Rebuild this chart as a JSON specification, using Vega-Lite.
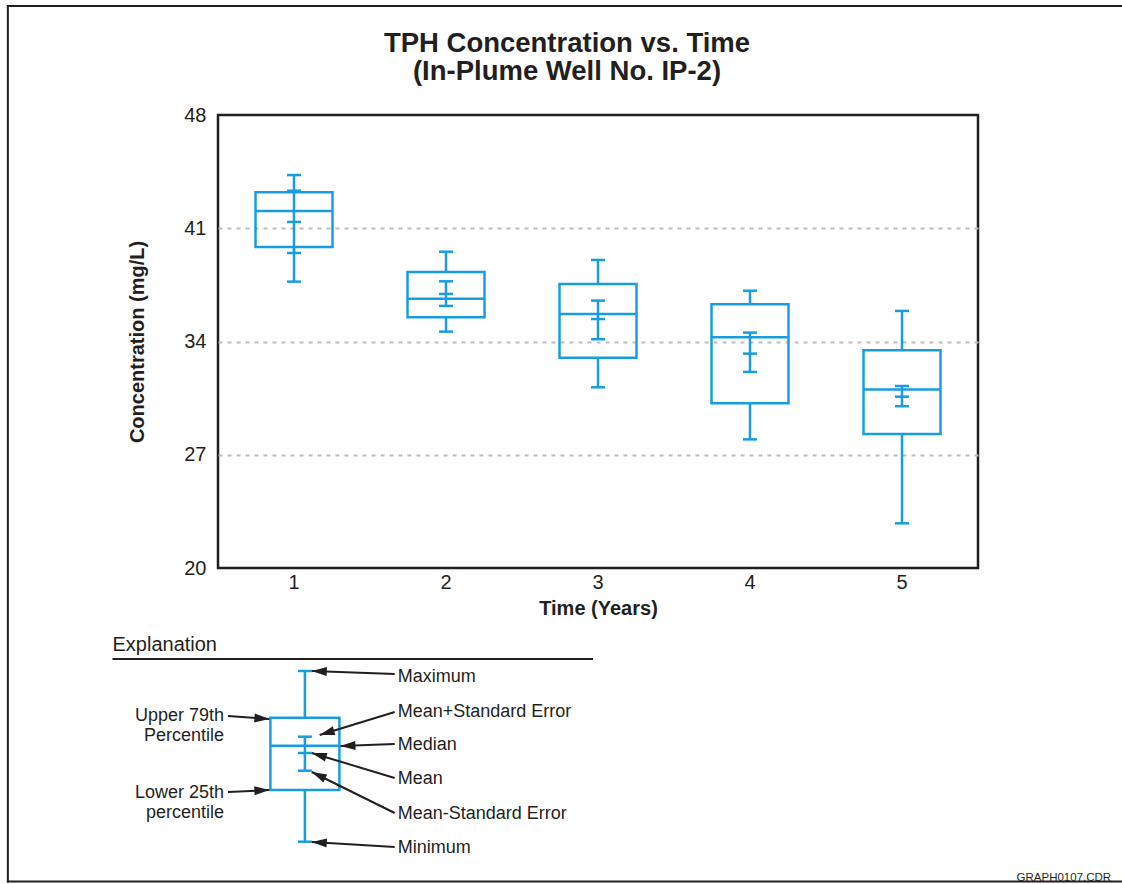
{
  "$schema": "https://vega.github.io/schema/vega-lite/v6.json",
  "autosize": {"type": "pad"},
  "padding": {"left": 5, "top": 4, "right": 0, "bottom": 0},
  "background": "white",
  "datasets": {
    "boxes": [
      {"year": 1, "min": 37.70, "q1": 39.84, "median": 42.07, "q3": 43.22, "max": 44.29, "mean": 41.39, "se_lo": 39.47, "se_hi": 43.32},
      {"year": 2, "min": 34.61, "q1": 35.50, "median": 36.65, "q3": 38.30, "max": 39.55, "mean": 36.94, "se_lo": 36.20, "se_hi": 37.72},
      {"year": 3, "min": 31.17, "q1": 33.00, "median": 35.70, "q3": 37.55, "max": 39.04, "mean": 35.39, "se_lo": 34.14, "se_hi": 36.53},
      {"year": 4, "min": 27.95, "q1": 30.18, "median": 34.26, "q3": 36.30, "max": 37.14, "mean": 33.25, "se_lo": 32.12, "se_hi": 34.55},
      {"year": 5, "min": 22.76, "q1": 28.28, "median": 31.04, "q3": 33.46, "max": 35.89, "mean": 30.59, "se_lo": 30.00, "se_hi": 31.25}
    ],
    "legendbox": [
      {"x": 8.3, "min": 1.83, "q1": 7.0, "median": 11.43, "q3": 14.23, "max": 18.9, "mean": 10.7, "se_lo": 8.93, "se_hi": 12.33}
    ],
    "notes": [
      {"x": 17.7, "y": 18.35, "text": "Maximum", "side": "right"},
      {"x": 17.7, "y": 14.85, "text": "Mean+Standard Error", "side": "right"},
      {"x": 17.7, "y": 11.52, "text": "Median", "side": "right"},
      {"x": 17.7, "y": 8.1, "text": "Mean", "side": "right"},
      {"x": 17.7, "y": 4.6, "text": "Mean-Standard Error", "side": "right"},
      {"x": 17.7, "y": 1.2, "text": "Minimum", "side": "right"},
      {"x": 0.1, "y": 14.4, "text": "Upper 79th", "side": "left"},
      {"x": 0.1, "y": 12.4, "text": "Percentile", "side": "left"},
      {"x": 0.1, "y": 6.75, "text": "Lower 25th", "side": "left"},
      {"x": 0.1, "y": 4.75, "text": "percentile", "side": "left"}
    ],
    "arrows": [
      {"target": "Maximum", "x": 17.4, "y": 18.6, "x1": 9.0, "y1": 18.9},
      {"target": "Mean+Standard Error", "x": 17.4, "y": 14.8, "x1": 9.8, "y1": 12.5},
      {"target": "Median", "x": 17.4, "y": 11.6, "x1": 11.9, "y1": 11.4},
      {"target": "Mean", "x": 17.4, "y": 8.2, "x1": 9.0, "y1": 10.7},
      {"target": "Mean-Standard Error", "x": 17.4, "y": 4.7, "x1": 9.0, "y1": 8.8},
      {"target": "Minimum", "x": 17.4, "y": 1.3, "x1": 9.0, "y1": 1.8},
      {"target": "Upper 79th Percentile", "x": 0.5, "y": 14.4, "x1": 4.7, "y1": 14.1},
      {"target": "Lower 25th percentile", "x": 0.5, "y": 6.8, "x1": 4.7, "y1": 7.0}
    ],
    "lines": [
      {"x": -21.8, "y": 85.5, "x2": -21.8, "y2": -2.25, "kind": "border"},
      {"x": -21.9, "y": 85.4, "x2": 94.0, "y2": 85.4, "kind": "border"},
      {"x": -21.9, "y": -2.15, "x2": 94.0, "y2": -2.15, "kind": "border"},
      {"x": -11.2, "y": 20.1, "x2": 37.5, "y2": 20.1, "kind": "header"}
    ],
    "captions": [
      {"x": -11.2, "y": 21.5, "text": "Explanation", "kind": "head"},
      {"x": 90.0, "y": -1.75, "text": "GRAPH0107.CDR", "kind": "tag"}
    ]
  },
  "vconcat": [
    {
      "width": 760,
      "height": 453,
      "view": {"stroke": "#231f20", "strokeWidth": 2.5},
      "title": {
        "text": ["TPH Concentration vs. Time", "(In-Plume Well No. IP-2)"],
        "font": "Liberation Sans",
        "fontSize": 27.5,
        "fontWeight": "bold",
        "lineHeight": 28,
        "color": "#231f20",
        "anchor": "middle",
        "dx": -31,
        "offset": 20
      },
      "data": {"name": "boxes"},
      "encoding": {
        "x": {
          "field": "year",
          "type": "ordinal",
          "title": "Time (Years)",
          "scale": {"paddingInner": 0, "paddingOuter": 0},
          "axis": {
            "labelAngle": 0,
            "ticks": false,
            "tickSize": 0,
            "domain": false,
            "grid": false,
            "labelFontSize": 20,
            "labelPadding": 4,
            "titleFontSize": 20,
            "titleFontWeight": "bold",
            "titlePadding": 6
          }
        }
      },
      "layer": [
        {
          "mark": {"type": "bar", "orient": "vertical", "size": 77, "fill": "transparent", "stroke": "#189de0", "strokeWidth": 2.5},
          "encoding": {
            "y": {
              "field": "q1",
              "type": "quantitative",
              "title": "Concentration (mg/L)",
              "scale": {"domain": [20, 48], "nice": false, "zero": false},
              "axis": {
                "values": [20, 27, 34, 41, 48],
                "ticks": false,
                "tickSize": 0,
                "domain": false,
                "labelFontSize": 20,
                "labelPadding": 12,
                "titleFontSize": 20,
                "titleFontWeight": "bold",
                "titlePadding": 36,
                "grid": true,
                "gridColor": "#bdbdbd",
                "gridDash": [4, 5],
                "gridWidth": 2,
                "gridOpacity": {"condition": {"test": "datum.value === 20 || datum.value === 48", "value": 0}, "value": 1}
              }
            },
            "y2": {"field": "q3"}
          }
        },
        {
          "mark": {"type": "rule", "color": "#189de0", "strokeWidth": 2.5},
          "encoding": {
            "y": {"field": "q3", "type": "quantitative", "title": "Concentration (mg/L)"},
            "y2": {"field": "max"}
          }
        },
        {
          "mark": {"type": "rule", "color": "#189de0", "strokeWidth": 2.5},
          "encoding": {
            "y": {"field": "min", "type": "quantitative", "title": "Concentration (mg/L)"},
            "y2": {"field": "q1"}
          }
        },
        {
          "mark": {"type": "rule", "color": "#189de0", "strokeWidth": 2.5},
          "encoding": {
            "y": {"field": "se_lo", "type": "quantitative", "title": "Concentration (mg/L)"},
            "y2": {"field": "se_hi"}
          }
        },
        {
          "mark": {"type": "tick", "orient": "horizontal", "size": 77, "thickness": 2.5, "color": "#189de0", "opacity": 1},
          "encoding": {
            "y": {"field": "median", "type": "quantitative", "title": "Concentration (mg/L)"}
          }
        },
        {
          "transform": [{"fold": ["min", "max", "mean", "se_lo", "se_hi"], "as": ["stat", "val"]}],
          "mark": {"type": "tick", "orient": "horizontal", "size": 14, "thickness": 2.5, "color": "#189de0", "opacity": 1},
          "encoding": {
            "y": {"field": "val", "type": "quantitative", "title": "Concentration (mg/L)"}
          }
        }
      ]
    },
    {
      "width": 760,
      "height": 230,
      "view": {"stroke": null},
      "encoding": {
        "x": {"field": "x", "type": "quantitative", "scale": {"domain": [0, 76], "nice": false, "zero": false}, "axis": null},
        "y": {"field": "y", "type": "quantitative", "scale": {"domain": [0, 23], "nice": false, "zero": false}, "axis": null}
      },
      "layer": [
        {
          "data": {"name": "lines"},
          "transform": [{"filter": "datum.kind === 'border'"}],
          "mark": {"type": "rule", "color": "#231f20", "strokeWidth": 2},
          "encoding": {"x2": {"field": "x2"}, "y2": {"field": "y2"}}
        },
        {
          "data": {"name": "lines"},
          "transform": [{"filter": "datum.kind === 'header'"}],
          "mark": {"type": "rule", "color": "#231f20", "strokeWidth": 2},
          "encoding": {"x2": {"field": "x2"}, "y2": {"field": "y2"}}
        },
        {
          "data": {"name": "captions"},
          "transform": [{"filter": "datum.kind === 'head'"}],
          "mark": {"type": "text", "align": "left", "baseline": "middle", "fontSize": 20, "font": "Liberation Sans", "color": "#231f20"},
          "encoding": {"text": {"field": "text"}}
        },
        {
          "data": {"name": "captions"},
          "transform": [{"filter": "datum.kind === 'tag'"}],
          "mark": {"type": "text", "align": "right", "baseline": "middle", "fontSize": 11.5, "font": "Liberation Sans", "color": "#231f20"},
          "encoding": {"text": {"field": "text"}}
        },
        {
          "data": {"name": "legendbox"},
          "mark": {"type": "bar", "orient": "vertical", "size": 69, "fill": "transparent", "stroke": "#189de0", "strokeWidth": 2.5},
          "encoding": {"y": {"field": "q1", "type": "quantitative"}, "y2": {"field": "q3"}}
        },
        {
          "data": {"name": "legendbox"},
          "mark": {"type": "rule", "color": "#189de0", "strokeWidth": 2.5},
          "encoding": {"y": {"field": "q3", "type": "quantitative"}, "y2": {"field": "max"}}
        },
        {
          "data": {"name": "legendbox"},
          "mark": {"type": "rule", "color": "#189de0", "strokeWidth": 2.5},
          "encoding": {"y": {"field": "min", "type": "quantitative"}, "y2": {"field": "q1"}}
        },
        {
          "data": {"name": "legendbox"},
          "mark": {"type": "rule", "color": "#189de0", "strokeWidth": 2.5},
          "encoding": {"y": {"field": "se_lo", "type": "quantitative"}, "y2": {"field": "se_hi"}}
        },
        {
          "data": {"name": "legendbox"},
          "mark": {"type": "tick", "orient": "horizontal", "size": 69, "thickness": 2.5, "color": "#189de0", "opacity": 1},
          "encoding": {"y": {"field": "median", "type": "quantitative"}}
        },
        {
          "data": {"name": "legendbox"},
          "transform": [{"fold": ["min", "max", "mean", "se_lo", "se_hi"], "as": ["stat", "val"]}],
          "mark": {"type": "tick", "orient": "horizontal", "size": 14, "thickness": 2.5, "color": "#189de0", "opacity": 1},
          "encoding": {"y": {"field": "val", "type": "quantitative"}}
        },
        {
          "data": {"name": "arrows"},
          "mark": {"type": "rule", "color": "#231f20", "strokeWidth": 2},
          "encoding": {"x2": {"field": "x1"}, "y2": {"field": "y1"}}
        },
        {
          "data": {"name": "arrows"},
          "transform": [{"calculate": "atan2(datum.y - datum.y1, datum.x1 - datum.x) * 180 / PI", "as": "ang"}],
          "mark": {"type": "point", "shape": "M0,0L-1,-0.3L-1,0.3Z", "filled": true, "size": 900, "color": "#231f20", "opacity": 1, "strokeWidth": 0},
          "encoding": {
            "x": {"field": "x1", "type": "quantitative"},
            "y": {"field": "y1", "type": "quantitative"},
            "angle": {"field": "ang", "type": "quantitative", "scale": null}
          }
        },
        {
          "data": {"name": "notes"},
          "transform": [{"filter": "datum.side === 'right'"}],
          "mark": {"type": "text", "align": "left", "baseline": "middle", "fontSize": 18, "font": "Liberation Sans", "color": "#231f20"},
          "encoding": {"text": {"field": "text"}}
        },
        {
          "data": {"name": "notes"},
          "transform": [{"filter": "datum.side === 'left'"}],
          "mark": {"type": "text", "align": "right", "baseline": "middle", "fontSize": 18, "font": "Liberation Sans", "color": "#231f20"},
          "encoding": {"text": {"field": "text"}}
        }
      ]
    }
  ],
  "spacing": 62,
  "bounds": "flush",
  "config": {
    "font": "Liberation Sans",
    "view": {"stroke": null},
    "axis": {
      "labelFont": "Liberation Sans",
      "titleFont": "Liberation Sans",
      "labelColor": "#231f20",
      "titleColor": "#231f20"
    }
  }
}
